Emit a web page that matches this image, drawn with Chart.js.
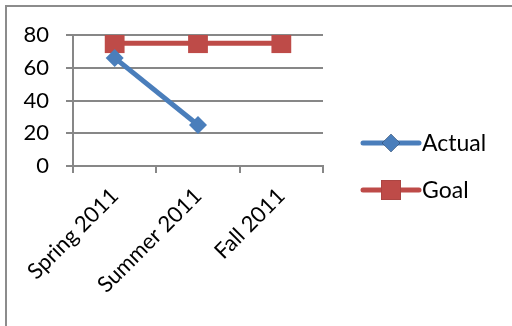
<!DOCTYPE html>
<html>
<head>
<meta charset="utf-8">
<script src="https://cdn.jsdelivr.net/npm/chart.js@4/dist/chart.umd.min.js"></script>
<style>
    html, body { margin: 0; padding: 0; background: #fff; }
    #wrap { position: relative; width: 512px; height: 326px; overflow: hidden; }
    #frame {
        position: absolute; left: 5px; top: 5px; width: 600px; height: 400px;
        border-left: 2px solid #8c8c8c; border-top: 2px solid #8c8c8c;
    }
    canvas { position: absolute; left: 0; top: 0; }
</style>
</head>
<body>
<div id="wrap">
    <div id="frame"></div>
    <canvas id="chart" width="512" height="326"></canvas>
</div>
<script>
// ===== DATA =====
const categories = ["Spring 2011", "Summer 2011", "Fall 2011"];
const actualValues = [66, 25, null];
const goalValues = [75, 75, 75];
const yTicks = [0, 20, 40, 60, 80];

const BLUE = "#4a7ebb";
const RED = "#be4b48";
const GRID = "#878787";
const FONT = "Lato, 'Open Sans', sans-serif";

//
// ================= LEGEND (line + marker, drawn on the right) =================
//
const sideLegend = {
    id: "sideLegend",
    afterDraw(chart) {
        const ctx = chart.ctx;
        const x0 = 363, x1 = 419, tx = 422;
        const rows = [143, 190];
        chart.data.datasets.forEach((ds, i) => {
            const y = rows[i];
            ctx.save();
            ctx.strokeStyle = ds.borderColor;
            ctx.lineWidth = ds.borderWidth;
            ctx.lineCap = "round";
            ctx.beginPath();
            ctx.moveTo(x0, y);
            ctx.lineTo(x1, y);
            ctx.stroke();
            Chart.helpers.drawPoint(ctx, {
                pointStyle: ds.pointStyle,
                radius: ds.pointRadius,
                borderWidth: 0
            }, (x0 + x1) / 2, y);
            ctx.fillStyle = ds.pointBackgroundColor;
            ctx.fill();
            ctx.fillStyle = "#000";
            ctx.font = "23px " + FONT;
            ctx.textBaseline = "middle";
            ctx.fillText(ds.label, tx, y + 1);
            ctx.restore();
        });
    }
};

const ctx = document.getElementById("chart").getContext("2d");

new Chart(ctx, {
    type: "line",
    data: {
        labels: categories,
        datasets: [
            {
                label: "Actual",
                data: actualValues,
                borderColor: BLUE,
                backgroundColor: BLUE,
                pointBackgroundColor: BLUE,
                pointBorderColor: BLUE,
                borderWidth: 5,
                pointStyle: "rectRot",
                pointRadius: 9,
                pointBorderWidth: 0,
                spanGaps: false
            },
            {
                label: "Goal",
                data: goalValues,
                borderColor: RED,
                backgroundColor: RED,
                pointBackgroundColor: RED,
                pointBorderColor: RED,
                borderWidth: 5,
                pointStyle: "rect",
                pointRadius: 14,
                pointBorderWidth: 0
            }
        ]
    },
    plugins: [sideLegend],
    options: {
        responsive: false,
        animation: false,
        layout: { padding: { top: 35, right: 189, left: 0, bottom: 0 } },
        plugins: {
            legend: { display: false },
            tooltip: { enabled: false }
        },
        scales: {
            x: {
                offset: true,
                grid: {
                    offset: true,
                    drawOnChartArea: false,
                    drawTicks: true,
                    tickLength: 7,
                    color: GRID,
                    lineWidth: 2
                },
                border: { color: GRID, width: 2 },
                ticks: {
                    color: "#000",
                    font: { family: FONT, size: 22 },
                    minRotation: 45,
                    maxRotation: 45,
                    padding: 10
                },
                afterFit(scale) {
                    scale.height = 160;
                    scale.paddingLeft = 0;
                    scale.paddingRight = 0;
                }
            },
            y: {
                min: 0,
                max: 80,
                afterBuildTicks(scale) {
                    scale.ticks = yTicks.map(v => ({ value: v }));
                },
                grid: {
                    color: GRID,
                    lineWidth: 2,
                    tickLength: 7
                },
                border: { color: GRID, width: 2 },
                ticks: {
                    color: "#000",
                    font: { family: FONT, size: 22 },
                    padding: 17
                },
                afterFit(scale) {
                    scale.width = 73;
                }
            }
        }
    }
});
</script>
</body>
</html>
